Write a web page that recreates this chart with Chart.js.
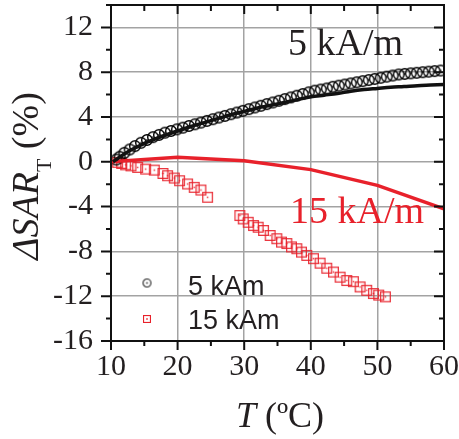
<!DOCTYPE html>
<html>
<head>
<meta charset="utf-8">
<script src="https://cdn.jsdelivr.net/npm/chart.js@4.4.1/dist/chart.umd.min.js"></script>
<style>
  html, body { margin: 0; padding: 0; background: #fff; }
</style>
</head>
<body>
<canvas id="chart" width="459" height="439"></canvas>
<script>
// 5 kA/m measured points
const temp5 = [10.8, 11.3, 12.0, 12.8, 13.6, 14.5, 15.4, 16.3, 17.2, 18.1, 19.0, 19.9, 20.8, 21.7,
  22.6, 23.5, 24.4, 25.3, 26.2, 27.1, 28.0, 28.9, 29.8, 30.7, 31.6, 32.5, 33.4, 34.3, 35.2, 36.1,
  37.0, 37.9, 38.8, 39.7, 40.6, 41.5, 42.4, 43.3, 44.2, 45.1, 46.0, 46.9, 47.8, 48.7, 49.6, 50.5,
  51.4, 52.3, 53.2, 54.1, 55.0, 55.9, 56.8, 57.7, 58.6, 59.5];
const sar5 = [0.2, 0.45, 0.8, 1.1, 1.4, 1.7, 1.95, 2.2, 2.4, 2.6, 2.75, 2.9, 3.05, 3.2,
  3.35, 3.5, 3.65, 3.8, 3.95, 4.1, 4.25, 4.4, 4.55, 4.7, 4.85, 5.0, 5.15, 5.3, 5.45, 5.6,
  5.75, 5.9, 6.05, 6.2, 6.35, 6.45, 6.55, 6.7, 6.8, 6.9, 7.0, 7.1, 7.2, 7.3, 7.4, 7.5,
  7.6, 7.7, 7.8, 7.85, 7.9, 7.95, 8.0, 8.05, 8.1, 8.15];

// 15 kA/m measured points (two runs with a gap)
const temp15 = [11.0, 11.6, 12.2, 13.0, 14.0, 15.2, 16.5, 17.8, 18.5, 19.5, 20.3, 21.5, 22.5, 23.5, 24.5,
  29.35, 29.85, 30.6, 31.4, 32.1, 32.9, 33.9, 34.9, 35.6, 36.4, 37.1, 37.9, 38.6, 39.4, 40.4,
  41.4, 42.4, 43.4, 44.4, 45.4, 46.4, 47.4, 48.4, 49.4, 50.2, 51.2];
const sar15 = [-0.05, -0.15, -0.27, -0.36, -0.5, -0.65, -0.74, -1.04, -1.24, -1.45, -1.69, -1.98, -2.28, -2.52, -3.17,
  -4.8, -5.1, -5.4, -5.69, -5.84, -6.13, -6.58, -6.87, -7.17, -7.3, -7.6, -7.76, -8.06, -8.36, -8.65,
  -9.05, -9.5, -9.84, -10.3, -10.6, -10.7, -11.17, -11.47, -11.76, -11.9, -12.06];

// model curves
const fitTemp5 = [10.3, 11, 12, 13, 14, 15, 16, 18, 20, 22, 24, 26, 28, 30, 32, 34, 36, 38, 40,
  42, 44, 46, 48, 50, 52, 54, 56, 58, 60];
const fit5 = [0, 0.3, 0.7, 1.05, 1.35, 1.65, 1.9, 2.35, 2.75, 3.15, 3.5, 3.85, 4.2, 4.5, 4.8, 5.05, 5.3, 5.55, 5.8,
  5.95, 6.1, 6.3, 6.45, 6.55, 6.65, 6.72, 6.8, 6.85, 6.9];
const fitTemp15 = [10, 20, 30, 40, 50, 60];
const fit15 = [0, 0.4, 0.1, -0.7, -2.1, -4.2];

const xTicks = [10, 20, 30, 40, 50, 60];
const xMinor = [15, 25, 35, 45, 55];
const yTicks = [-16, -12, -8, -4, 0, 4, 8, 12];
const yMinor = [-14, -10, -6, -2, 2, 6, 10, 14];

const RED = "#e8212b";
const INK = "#231f20";
const SERIF = '"Liberation Serif", "Times New Roman", serif';
const SANS = '"Liberation Sans", Arial, sans-serif';

const pts = (xs, ys) => xs.map((x, i) => ({ x, y: ys[i] }));

function marker(kind, size, color, lw) {
  const c = document.createElement("canvas");
  c.width = c.height = size + 2;
  const g = c.getContext("2d");
  const m = (size + 2) / 2;
  g.strokeStyle = color;
  g.fillStyle = color;
  g.lineWidth = lw;
  if (kind === "circle") {
    g.beginPath();
    g.arc(m, m, size / 2 - lw / 2, 0, Math.PI * 2);
    g.stroke();
  } else {
    g.strokeRect(1 + lw / 2, 1 + lw / 2, size - lw, size - lw);
  }
  g.fillRect(m - 0.75, m - 0.75, 1.5, 1.5);
  return c;
}

const circleMark = marker("circle", 12, "#000", 1.4);
const squareMark = marker("square", 11, "rgba(232,33,43,0.9)", 1.3);
const circleLegend = marker("circle", 9, "#222", 1.1);
const squareLegend = marker("square", 8, RED, 1.1);

const noPad = (s) => {
  s.paddingTop = 0;
  s.paddingBottom = 0;
  s.paddingLeft = 0;
  s.paddingRight = 0;
};

const frame = {
  id: "frame",
  afterDatasetsDraw(chart) {
    const { ctx, chartArea: a, scales: { x, y } } = chart;
    ctx.save();
    ctx.strokeStyle = "#111";
    ctx.lineWidth = 2;
    ctx.strokeRect(a.left, a.top, a.right - a.left, a.bottom - a.top);
    ctx.beginPath();
    xTicks.forEach((v) => {
      const px = x.getPixelForValue(v);
      ctx.moveTo(px, a.bottom); ctx.lineTo(px, a.bottom + 9);
      ctx.moveTo(px, a.top); ctx.lineTo(px, a.top + 9);
    });
    xMinor.forEach((v) => {
      const px = x.getPixelForValue(v);
      ctx.moveTo(px, a.bottom); ctx.lineTo(px, a.bottom + 5);
      ctx.moveTo(px, a.top); ctx.lineTo(px, a.top + 6);
    });
    yTicks.forEach((v) => {
      const py = y.getPixelForValue(v);
      ctx.moveTo(a.left - 10, py); ctx.lineTo(a.left, py);
      ctx.moveTo(a.right - 10, py); ctx.lineTo(a.right, py);
    });
    yMinor.forEach((v) => {
      const py = y.getPixelForValue(v);
      ctx.moveTo(a.left - 5, py); ctx.lineTo(a.left, py);
      ctx.moveTo(a.right - 5, py); ctx.lineTo(a.right, py);
    });
    ctx.stroke();
    ctx.restore();
  },
  afterDraw(chart) {
    const { ctx } = chart;
    ctx.save();
    ctx.textBaseline = "alphabetic";

    // curve annotations
    ctx.fillStyle = INK;
    ctx.font = `38px ${SERIF}`;
    ctx.fillText("5 kA/m", 288, 55);
    ctx.fillStyle = RED;
    ctx.fillText("15 kA/m", 290, 223);

    // legend
    ctx.drawImage(circleLegend, 147 - 5.5, 283 - 5.5);
    ctx.drawImage(squareLegend, 147 - 5, 319 - 5);
    ctx.fillStyle = INK;
    ctx.font = `27px ${SANS}`;
    ctx.fillText("5 kAm", 188, 295);
    ctx.fillText("15 kAm", 188, 329);

    // x title: T (ºC)
    const xParts = [
      { t: "T", f: `italic 36px ${SERIF}` },
      { t: " (ºC)", f: `36px ${SERIF}` },
    ];
    let w = 0;
    xParts.forEach((p) => { ctx.font = p.f; p.w = ctx.measureText(p.t).width; w += p.w; });
    let cx = 280 - w / 2;
    xParts.forEach((p) => { ctx.font = p.f; ctx.fillText(p.t, cx, 427); cx += p.w; });

    // y title: ΔSAR_T (%)
    ctx.translate(38, 176);
    ctx.rotate(-Math.PI / 2);
    const yParts = [
      { t: "ΔSAR", f: `italic 38px ${SERIF}`, dy: 0 },
      { t: "T", f: `22px ${SERIF}`, dy: 13 },
      { t: " (%)", f: `38px ${SERIF}`, dy: 0 },
    ];
    w = 0;
    yParts.forEach((p) => { ctx.font = p.f; p.w = ctx.measureText(p.t).width; w += p.w; });
    cx = -w / 2;
    yParts.forEach((p) => { ctx.font = p.f; ctx.fillText(p.t, cx, p.dy); cx += p.w; });
    ctx.restore();
  },
};

new Chart(document.getElementById("chart"), {
  type: "scatter",
  data: {
    datasets: [
      {
        label: "5 kA/m model",
        data: pts(fitTemp5, fit5),
        showLine: true,
        borderColor: "#111",
        borderWidth: 3.5,
        pointRadius: 0,
        cubicInterpolationMode: "monotone",
        order: 0,
      },
      {
        label: "15 kA/m model",
        data: pts(fitTemp15, fit15),
        showLine: true,
        borderColor: RED,
        borderWidth: 3.5,
        pointRadius: 0,
        order: 0,
      },
      {
        label: "5 kAm",
        data: pts(temp5, sar5),
        pointStyle: circleMark,
        order: 1,
      },
      {
        label: "15 kAm",
        data: pts(temp15, sar15),
        pointStyle: squareMark,
        order: 1,
      },
    ],
  },
  options: {
    responsive: false,
    animation: false,
    devicePixelRatio: 1,
    layout: { padding: { top: 3, right: 15, left: 0, bottom: 0 } },
    plugins: { legend: { display: false }, tooltip: { enabled: false } },
    scales: {
      x: {
        type: "linear",
        min: 10,
        max: 60,
        afterBuildTicks: (s) => { s.ticks = xTicks.map((value) => ({ value })); },
        afterFit: (s) => { s.height = 98; noPad(s); },
        border: { display: false },
        grid: { color: "#a3a3a3", lineWidth: 1.5, drawTicks: false },
        ticks: { color: INK, font: { family: SERIF, size: 30 }, padding: 8, maxRotation: 0 },
      },
      y: {
        type: "linear",
        min: -16,
        max: 14,
        afterBuildTicks: (s) => { s.ticks = yTicks.map((value) => ({ value })); },
        afterFit: (s) => { s.width = 111; noPad(s); },
        border: { display: false },
        grid: { color: "#a3a3a3", lineWidth: 1.5, drawTicks: false },
        ticks: { color: INK, font: { family: SERIF, size: 30 }, padding: 18 },
      },
    },
  },
  plugins: [frame],
});
</script>
</body>
</html>
